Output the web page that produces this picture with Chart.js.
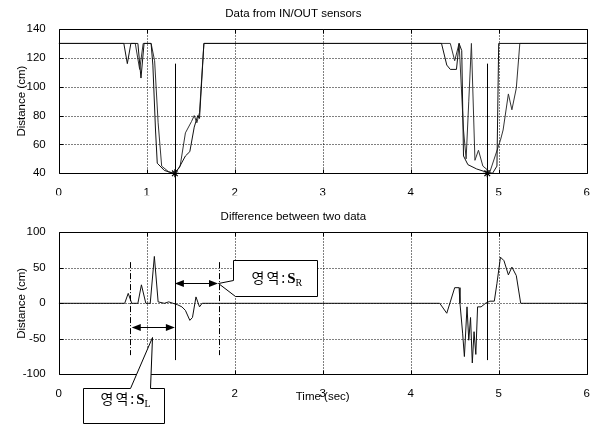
<!DOCTYPE html>
<html>
<head>
<meta charset="utf-8">
<script src="https://cdn.jsdelivr.net/npm/chart.js@4.4.1/dist/chart.umd.min.js"></script>
<style>
    html, body { margin: 0; padding: 0; background: #fff; }
    #wrap { position: relative; width: 597px; height: 424px; }
    #wrap canvas { position: absolute; left: 0; top: 0; }
</style>
</head>
<body>
<div id="wrap">
    <canvas id="sensorChart" width="597" height="424"></canvas>
    <canvas id="diffChart" width="597" height="424"></canvas>
</div>
<script>
// upper plot: IN / OUT sensor distance
const inTime  = [0, 0.74, 0.78, 0.82, 0.9, 0.935, 0.97, 1.05, 1.07, 1.1, 1.12, 1.2, 1.3, 1.36, 1.44, 1.49, 1.54, 1.58, 1.6, 1.65,
                 4.35, 4.41, 4.45, 4.52, 4.55, 4.58, 4.6, 4.65, 4.75, 4.85, 4.93, 4.98, 5.0, 6];
const inDist  = [130, 130, 116, 130, 130, 106, 130, 130, 115, 70, 47, 42, 40, 43, 52, 55, 72, 80, 78, 130,
                 130, 115, 112, 112, 130, 125, 52, 46, 43, 41, 40, 45, 130, 130];
const outTime = [0, 0.87, 0.92, 0.96, 1.05, 1.09, 1.13, 1.17, 1.25, 1.32, 1.38, 1.44, 1.51, 1.54, 1.57, 1.6, 1.65,
                 4.45, 4.5, 4.55, 4.6, 4.63, 4.66, 4.69, 4.73, 4.77, 4.82, 4.9, 4.96, 5.02, 5.05, 5.11, 5.15, 5.2, 5.24, 6];
const outDist = [130, 130, 112, 130, 130, 118, 75, 45, 41, 40, 45, 68, 76, 80, 75, 82, 130,
                 130, 118, 130, 70, 50, 90, 130, 49, 56, 45, 41, 52, 63, 70, 95, 84, 99, 130, 130];
const minTime = [1.32, 4.87];
const minDist = [40, 40];

// lower plot: difference between the two sensors
const diffTime = [0, 0.75, 0.79, 0.83, 0.9, 0.94, 0.99, 1.04, 1.087, 1.13, 1.2, 1.25, 1.3, 1.35, 1.4, 1.44, 1.49, 1.52, 1.56, 1.6, 1.63,
                  4.33, 4.41, 4.5, 4.55, 4.56, 4.59, 4.61, 4.64, 4.66, 4.68, 4.7, 4.72, 4.74, 4.76, 4.8, 4.85, 4.9, 4.95,
                  4.98, 5.02, 5.06, 5.11, 5.15, 5.2, 5.25, 6];
const diffVal  = [0, 0, 14, 0, 0, 26, 0, 0, 66, 2, 0, 2, 0, -2, -5, -10, -24, -20, 9, -5, 0,
                  0, -14, 22, 22, 0, -42, -75, -5, -52, -20, -84, -40, -72, -5, -5, 0, 3, 3,
                  28, 65, 60, 40, 51, 39, 0, 0];

const timeTicks = [0, 1, 2, 3, 4, 5, 6];
const distTicks = [40, 60, 80, 100, 120, 140];
const diffTicks = [-100, -50, 0, 50, 100];

// marker lines through both plots (from top value to bottom value)
const markTop = 116;
const markBottom = -80;
// regions S_L and S_R
const regionL = [0.83, 1.32];
const regionR = [1.32, 1.81];
const regionLevel = [-33, 28];
const regionBounds = [0.81, 1.82];

Chart.defaults.font.family = '"Liberation Sans", Arial, sans-serif';
Chart.defaults.font.size = 11.5;
Chart.defaults.color = '#000';

const pts = (xs, ys) => xs.map((x, i) => ({ x: x, y: ys[i] }));
const fixTicks = (list) => (scale) => { scale.ticks = list.map(v => ({ value: v })); };

// dotted grid, box and inward ticks for one axes pair, all from tick values
function drawFrame(ctx, X, Y, yList) {
    const left = Math.round(X(timeTicks[0])) + 0.5;
    const right = Math.round(X(timeTicks[timeTicks.length - 1])) + 0.5;
    const top = Math.round(Y(yList[yList.length - 1])) + 0.5;
    const bottom = Math.round(Y(yList[0])) + 0.5;
    const gx = timeTicks.map(v => Math.round(X(v)) + 0.5);
    const gy = yList.map(v => Math.round(Y(v)) + 0.5);

    ctx.save();
    ctx.strokeStyle = '#000';
    ctx.lineWidth = 1;
    ctx.setLineDash([1, 2]);
    ctx.beginPath();
    gy.slice(1, -1).forEach(y => { ctx.moveTo(left, y); ctx.lineTo(right, y); });
    gx.slice(1, -1).forEach(x => { ctx.moveTo(x, top); ctx.lineTo(x, bottom); });
    ctx.stroke();
    ctx.setLineDash([]);
    ctx.beginPath();
    ctx.moveTo(left, top); ctx.lineTo(right, top); ctx.lineTo(right, bottom);
    ctx.lineTo(left, bottom); ctx.closePath();
    gx.forEach(x => {
        ctx.moveTo(x, bottom); ctx.lineTo(x, bottom - 4);
        ctx.moveTo(x, top); ctx.lineTo(x, top + 4);
    });
    gy.forEach(y => {
        ctx.moveTo(left, y); ctx.lineTo(left + 4, y);
        ctx.moveTo(right, y); ctx.lineTo(right - 4, y);
    });
    ctx.stroke();
    ctx.restore();
}

const axisOpts = (ticksList, min, max, w, h, title, extra) => ({
    x: {
        type: 'linear', min: 0, max: 6,
        afterBuildTicks: fixTicks(timeTicks),
        afterFit: s => { s.height = h; },
        grid: { display: false },
        border: { display: false },
        ticks: { padding: 4.5, maxRotation: 0 },
        title: extra
    },
    y: {
        min: min, max: max,
        afterBuildTicks: fixTicks(ticksList),
        afterFit: s => { s.width = w; },
        grid: { display: false },
        border: { display: false },
        ticks: { padding: 5 },
        title: { display: true, text: title, padding: { top: 15, bottom: 0 } }
    }
});

const sensorChart = new Chart(document.getElementById('sensorChart'), {
    type: 'line',
    data: {
        datasets: [
            { data: pts(inTime, inDist), borderColor: '#111', borderWidth: 1, pointRadius: 0 },
            { data: pts(outTime, outDist), borderColor: '#333', borderWidth: 1, pointRadius: 0 },
            { data: pts(minTime, minDist), showLine: false, pointStyle: 'star', pointRadius: 4,
              borderColor: '#000', borderWidth: 1.2, clip: false }
        ]
    },
    options: {
        responsive: false, animation: false, devicePixelRatio: 1,
        layout: { padding: { left: 0, right: 10.3, top: 0, bottom: 228.7 } },
        elements: { line: { tension: 0 } },
        scales: axisOpts(distTicks, 40, 140, 58.7, 22, 'Distance (cm)', { display: false }),
        plugins: {
            legend: { display: false },
            tooltip: { enabled: false },
            title: { display: true, text: 'Data from IN/OUT sensors', font: { size: 11.5, weight: 'normal' },
                     padding: { top: 7.1, bottom: 8.1 } }
        }
    }
});

function arrowHead(ctx, x, y, dir) {
    ctx.beginPath();
    ctx.moveTo(x, y);
    ctx.lineTo(x - dir * 9, y - 3.5);
    ctx.lineTo(x - dir * 9, y + 3.5);
    ctx.closePath();
    ctx.fill();
}

function regionLabel(ctx, cx, cy, sub) {
    const han = '영역:';
    ctx.font = '14px "Noto Sans CJK KR"';
    ctx.letterSpacing = '2px';
    const w1 = ctx.measureText(han).width;
    ctx.letterSpacing = '0px';
    ctx.font = 'bold 15px "Liberation Serif"';
    const w2 = ctx.measureText('S').width;
    ctx.font = '10px "Liberation Serif"';
    const w3 = ctx.measureText(sub).width;
    let x = cx - (w1 + w2 + w3) / 2;
    ctx.textBaseline = 'alphabetic';
    ctx.textAlign = 'left';
    ctx.font = '14px "Noto Sans CJK KR"';
    ctx.letterSpacing = '2px';
    ctx.fillText(han, x, cy + 5);
    ctx.letterSpacing = '0px';
    x += w1;
    ctx.font = 'bold 15px "Liberation Serif"';
    ctx.fillText('S', x, cy + 5);
    x += w2;
    ctx.font = '10px "Liberation Serif"';
    ctx.fillText(sub, x, cy + 8);
}

// grids of both plots, the cross-plot marker lines and the region callouts
const notes = {
    id: 'notes',
    afterDraw(chart) {
        const { ctx, scales } = chart;
        const X = v => scales.x.getPixelForValue(v);
        const Y = v => scales.y.getPixelForValue(v);
        const topY = v => sensorChart.scales.y.getPixelForValue(v);

        drawFrame(ctx, X, topY, distTicks);
        drawFrame(ctx, X, Y, diffTicks);

        ctx.save();
        ctx.strokeStyle = '#000';
        ctx.fillStyle = '#000';
        ctx.lineWidth = 1;

        // solid marker lines crossing both plots
        minTime.forEach(t => {
            const x = Math.round(X(t)) + 0.5;
            ctx.beginPath();
            ctx.moveTo(x, topY(markTop));
            ctx.lineTo(x, Y(markBottom));
            ctx.stroke();
        });

        // dash-dot region bounds
        ctx.setLineDash([6, 2, 1, 2]);
        regionBounds.forEach(t => {
            const x = Math.round(X(t)) + 0.5;
            ctx.beginPath();
            ctx.moveTo(x, Y(58));
            ctx.lineTo(x, Y(-73));
            ctx.stroke();
        });
        ctx.setLineDash([]);

        // double arrows
        [[regionL, regionLevel[0]], [regionR, regionLevel[1]]].forEach(([r, lv]) => {
            const y = Math.round(Y(lv)) + 0.5;
            ctx.beginPath();
            ctx.moveTo(X(r[0]) + 6, y);
            ctx.lineTo(X(r[1]) - 6, y);
            ctx.stroke();
            arrowHead(ctx, X(r[0]), y, -1);
            arrowHead(ctx, X(r[1]), y, 1);
        });

        // callout boxes
        const callouts = [
            { shape: [[1.984, 61], [2.932, 61], [2.932, 10.3], [2.0, 10.3], [1.814, 28], [1.984, 32.8]],
              at: [2.48, 35.5], sub: 'R' },
            { shape: [[0.273, -119.5], [0.81, -119.5], [1.057, -47], [1.037, -119.5], [1.2, -119.5], [1.2, -168.5], [0.273, -168.5]],
              at: [0.76, -135], sub: 'L' }
        ];
        callouts.forEach(c => {
            ctx.beginPath();
            c.shape.forEach(([t, v], i) => {
                const x = Math.round(X(t)) + 0.5, y = Math.round(Y(v)) + 0.5;
                if (i === 0) ctx.moveTo(x, y); else ctx.lineTo(x, y);
            });
            ctx.closePath();
            ctx.fillStyle = '#fff';
            ctx.fill();
            ctx.stroke();
            ctx.fillStyle = '#000';
            regionLabel(ctx, X(c.at[0]), Y(c.at[1]), c.sub);
        });
        ctx.restore();
    }
};

const diffChart = new Chart(document.getElementById('diffChart'), {
    type: 'line',
    data: {
        datasets: [
            { data: pts(diffTime, diffVal), borderColor: '#111', borderWidth: 1, pointRadius: 0 }
        ]
    },
    options: {
        responsive: false, animation: false, devicePixelRatio: 1,
        layout: { padding: { left: 0, right: 10.3, top: 200, bottom: 19.7 } },
        elements: { line: { tension: 0 } },
        scales: axisOpts(diffTicks, -100, 100, 58.7, 30, 'Distance (cm)',
            { display: true, text: 'Time (sec)', padding: { top: 0, bottom: 1 } }),
        plugins: {
            legend: { display: false },
            tooltip: { enabled: false },
            title: { display: true, text: 'Difference between two data', font: { size: 11.5, weight: 'normal' },
                     padding: { top: 10.4, bottom: 8.1 } }
        }
    },
    plugins: [notes]
});
</script>
</body>
</html>
